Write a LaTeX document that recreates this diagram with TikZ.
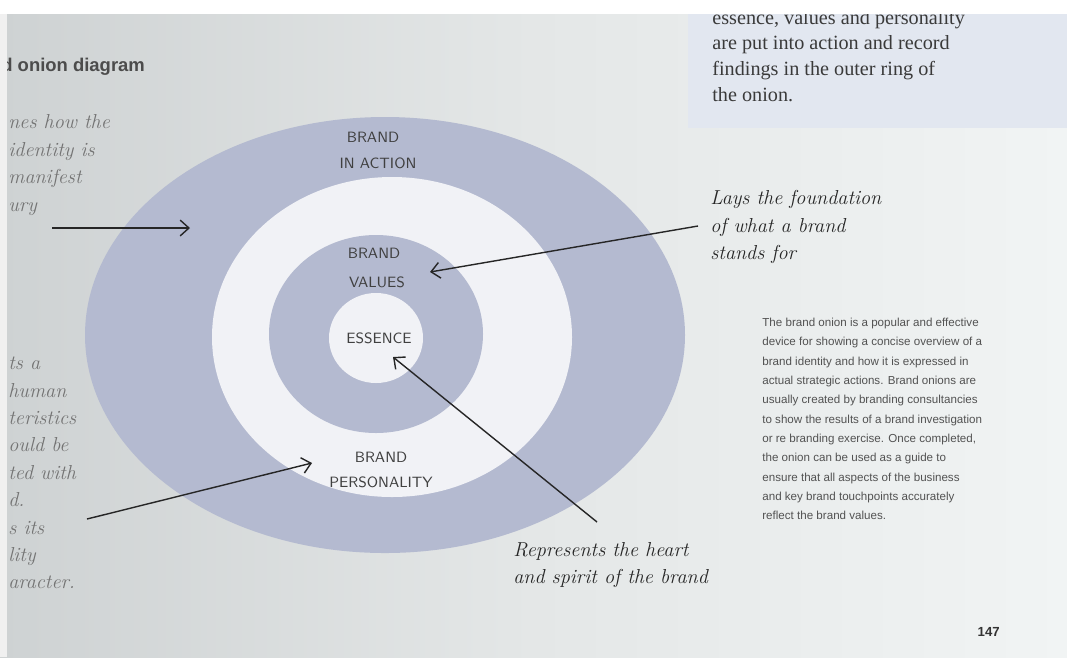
\documentclass[tikz,border=0pt]{standalone}
\usepackage{fontspec}
\usepackage{xcolor}
\usetikzlibrary{arrows.meta}

\newfontfamily\bookserif{Liberation Serif}
\newfontfamily\booksans{Liberation Sans}

\definecolor{paperL}{RGB}{206,210,211}
\definecolor{paperM}{RGB}{228,231,231}
\definecolor{paperR}{RGB}{241,244,244}
\definecolor{boxblue}{RGB}{226,231,240}
\definecolor{ringgrey}{RGB}{180,186,208}
\definecolor{ringwhite}{RGB}{241,242,246}
\definecolor{inkgrey}{RGB}{58,58,58}

\tikzset{
  ringlabel/.style={font=\sffamily\fontsize{8.5}{10}\selectfont\addfontfeature{LetterSpace=6},
    text=black!75, inner sep=0pt},
  handnote/.style={font=\itshape\fontsize{11.5}{15.5}\selectfont, text=black!85,
    align=left, inner sep=0pt, anchor=west},
  fadednote/.style={handnote, text=black!55},
  pointer/.style={-{Straight Barb[length=5pt,width=9pt]}, line width=0.8pt, black!85},
}

\begin{document}
\begin{tikzpicture}[x=0.02cm,y=-0.02cm]
  \useasboundingbox (0,0) rectangle (1067,657);
  \begin{scope}
    \clip (0,0) rectangle (1067,657);

    % --- Page background ---
    \shade[left color=paperL, right color=paperR, middle color=paperM] (0,0) rectangle (1067,657);
    \fill[boxblue] (688,0) rectangle (1067,128);

    % Text in the blue box (top line cut by the page edge)
    \node[anchor=west, font=\bookserif\fontsize{11.5}{14.7}\selectfont, text=inkgrey,
      align=left, inner sep=0pt] (boxtxt) at (712,56)
      {essence, values and personality\\are put into action and record\\findings in the outer ring of\\the onion.};
    \fill[white] (0,0) rectangle (1067,14);

    % Title
    \node[anchor=west, font=\booksans\bfseries\fontsize{10.5}{12}\selectfont, text=black!70,
      inner sep=0pt] (title) at (1,67) {d onion diagram};

    % --- Onion rings ---
    \fill[ringgrey]  (385,335) ellipse [x radius=300, y radius=218];
    \fill[ringwhite] (392,337) ellipse [x radius=180, y radius=160];
    \fill[ringgrey]  (376,334) ellipse [x radius=107, y radius=99];
    \fill[ringwhite] (376,338) ellipse [x radius=47, y radius=45];

    % Ring labels
    \node[ringlabel] (act1) at (373,137) {BRAND};
    \node[ringlabel] (act2) at (378,163) {IN ACTION};
    \node[ringlabel] (val1) at (374,253) {BRAND};
    \node[ringlabel] (val2) at (377,282) {VALUES};
    \node[ringlabel] (ess)  at (379,338) {ESSENCE};
    \node[ringlabel] (per1) at (381,457) {BRAND};
    \node[ringlabel] (per2) at (381,482) {PERSONALITY};

    % --- Handwritten notes ---
    \node[handnote] (lays)  at (710,227) {Lays the foundation\\of what a brand\\stands for};
    \node[handnote] (heart) at (513,565) {Represents the heart\\and spirit of the brand};

    % Cut-off notes on the left edge
    \node[fadednote, font=\itshape\fontsize{11.5}{15.8}\selectfont] (leftA) at (8,165)
      {nes how the\\identity is\\manifest\\ury};
    \node[fadednote, font=\itshape\fontsize{11.5}{15.6}\selectfont] (leftB) at (8,473)
      {ts a\\human\\teristics\\ould be\\ted with\\d.\\s its\\lity\\aracter.};

    % --- Pointers ---
    \coordinate (actTail) at (52,228);  \coordinate (actTip) at (190,228);
    \coordinate (perTail) at (87,519);  \coordinate (perTip) at (312,463);
    \coordinate (valTail) at (698,226); \coordinate (valTip) at (430,272);
    \coordinate (essTail) at (597,522); \coordinate (essTip) at (393,357);
    \draw[pointer] (actTail) -- (actTip);
    \draw[pointer] (perTail) -- (perTip);
    \draw[pointer] (valTail) -- (valTip);
    \draw[pointer] (essTail) -- (essTip);

    % --- Body text ---
    \node[anchor=west, font=\booksans\fontsize{6.6}{11}\selectfont, text=black!68,
      align=left, inner sep=0pt] (body) at (762,419)
      {The brand onion is a popular and effective\\
       device for showing a concise overview of a\\
       brand identity and how it is expressed in\\
       actual strategic actions. Brand onions are\\
       usually created by branding consultancies\\
       to show the results of a brand investigation\\
       or re branding exercise. Once completed,\\
       the onion can be used as a guide to\\
       ensure that all aspects of the business\\
       and key brand touchpoints accurately\\
       reflect the brand values.};

    % Page number
    \node[anchor=east, font=\booksans\bfseries\fontsize{7.5}{9}\selectfont, text=black!80,
      inner sep=0pt] (pageno) at (1000,632) {147};

    % Left page edge
    \fill[black!6] (0,14) rectangle (7,657);
  \end{scope}
\end{tikzpicture}
\end{document}
